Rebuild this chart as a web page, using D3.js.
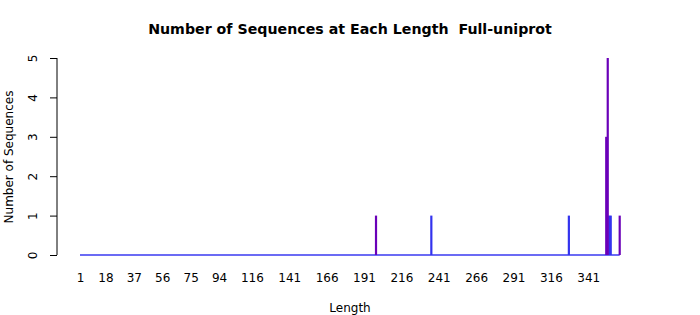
<!DOCTYPE html>
<html>
<head>
<meta charset="utf-8">
<script src="https://cdn.jsdelivr.net/npm/d3@7"></script>
<style>
	body { margin: 0; background: #fff; }
	text { font-family: "DejaVu Sans", sans-serif; }
</style>
</head>
<body>
<div id="chart"></div>
<script>
// lengths observed in the two overlaid series
const lengthRange = [1, 362];
const purpleLengths = [199, 353, 354, 362];
const purpleCounts = [1, 3, 5, 1];
const blueLengths = [236, 328, 355, 356];
const blueCounts = [1, 1, 1, 1];
const xTicks = [1, 18, 37, 56, 75, 94, 116, 141, 166, 191, 216, 241, 266, 291, 316, 341];
const yTicks = [0, 1, 2, 3, 4, 5];

const width = 700, height = 315;

const svg = d3.select("#chart").append("svg")
	.attr("width", width).attr("height", height);

const x = d3.scaleLinear().domain(lengthRange).range([80, 619.7]);
const y = d3.scaleLinear().domain([0, 5]).range([255, 58]);

// title
svg.append("text").attr("x", 350).attr("y", 34).attr("text-anchor", "middle")
	.style("font-weight", "bold").style("font-size", "14.2px").style("white-space", "pre")
	.text("Number of Sequences at Each Length  Full-uniprot");

// y axis
const yAxis = svg.append("g").attr("transform", "translate(57,0)")
	.call(d3.axisLeft(y).tickValues(yTicks).tickSize(7).tickPadding(0).tickFormat(d3.format("d")));
yAxis.select(".domain").attr("d", "M0," + y(5) + "V" + y(0)).attr("stroke", "#000");
yAxis.selectAll(".tick line").attr("stroke", "#000");
yAxis.selectAll(".tick text")
	.attr("transform", "rotate(-90)")
	.attr("x", 0).attr("y", -24).attr("dy", "0.35em")
	.attr("text-anchor", "middle")
	.style("font-size", "12px").attr("fill", "#000");

svg.append("text").attr("transform", "translate(13,157) rotate(-90)")
	.attr("text-anchor", "middle").style("font-size", "12px")
	.text("Number of Sequences");

// x axis labels only
const xAxis = svg.append("g").attr("transform", "translate(0,273)")
	.call(d3.axisBottom(x).tickValues(xTicks).tickSize(0).tickPadding(0));
xAxis.select(".domain").remove();
xAxis.selectAll(".tick text").style("font-size", "12px").attr("fill", "#000");

svg.append("text").attr("x", 350).attr("y", 312).attr("text-anchor", "middle")
	.style("font-size", "12px").text("Length");

// baseline of zero counts
svg.append("line")
	.attr("x1", x(lengthRange[0])).attr("x2", x(lengthRange[1]))
	.attr("y1", y(0)).attr("y2", y(0))
	.attr("stroke", "#3a3af0").attr("stroke-width", 1.5);

function drawSpikes(lens, cnts, color) {
	svg.append("g").selectAll("line")
		.data(lens.map((l, i) => ({ len: l, count: cnts[i] })))
		.join("line")
		.attr("x1", d => x(d.len)).attr("x2", d => x(d.len))
		.attr("y1", y(0)).attr("y2", d => y(d.count))
		.attr("stroke", color).attr("stroke-width", 2.2);
}

drawSpikes(blueLengths, blueCounts, "#3333ee");
drawSpikes(purpleLengths, purpleCounts, "#6a00b8");
</script>
</body>
</html>
